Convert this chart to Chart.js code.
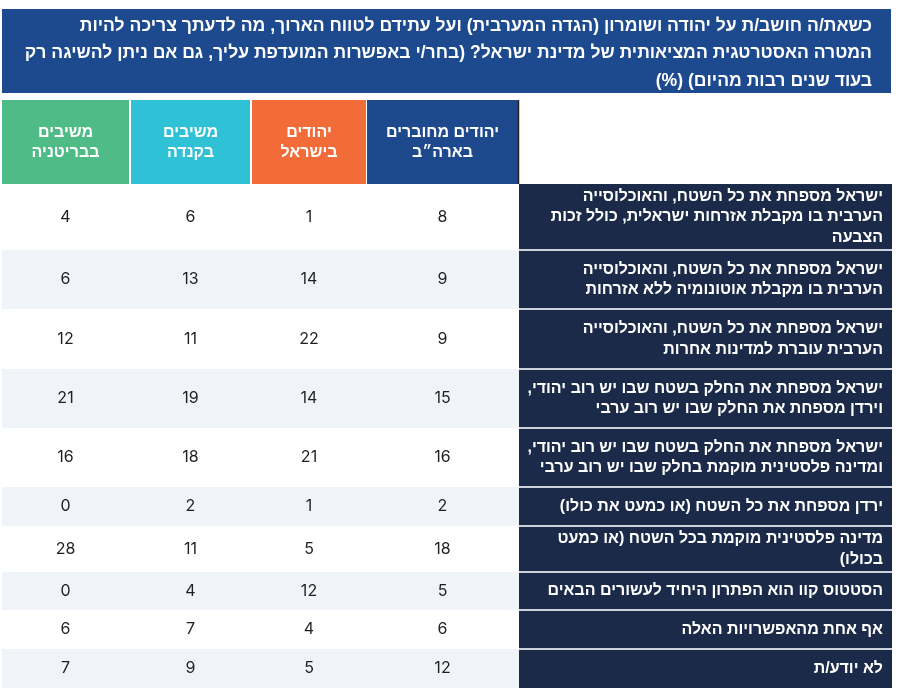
<!DOCTYPE html>
<html lang="he">
<head>
<meta charset="utf-8">
<script src="https://cdn.jsdelivr.net/npm/chart.js@4.4.1/dist/chart.umd.min.js"></script>
<style>
  html, body { margin: 0; padding: 0; background: #fff; }
  #wrap { width: 900px; height: 697px; }
</style>
</head>
<body>
<div id="wrap"><canvas id="tbl"></canvas></div>
<script>
// --- נתונים ---
const titleLines = [
  "כשאת/ה חושב/ת על יהודה ושומרון (הגדה המערבית) ועל עתידם לטווח הארוך, מה לדעתך צריכה להיות",
  "המטרה האסטרטגית המציאותית של מדינת ישראל? (בחר/י באפשרות המועדפת עליך, גם אם ניתן להשיגה רק",
  "בעוד שנים רבות מהיום) (%)"
];

// כותרות העמודות (מימין לשמאל)
const groups = [
  ["יהודים מחוברים", "בארה״ב"],
  ["יהודים", "בישראל"],
  ["משיבים", "בקנדה"],
  ["משיבים", "בבריטניה"]
];

const answers = [
  ["ישראל מספחת את כל השטח, והאוכלוסייה", "הערבית בו מקבלת אזרחות ישראלית, כולל זכות", "הצבעה"],
  ["ישראל מספחת את כל השטח, והאוכלוסייה", "הערבית בו מקבלת אוטונומיה ללא אזרחות"],
  ["ישראל מספחת את כל השטח, והאוכלוסייה", "הערבית עוברת למדינות אחרות"],
  ["ישראל מספחת את החלק בשטח שבו יש רוב יהודי,", "וירדן מספחת את החלק שבו יש רוב ערבי"],
  ["ישראל מספחת את החלק בשטח שבו יש רוב יהודי,", "ומדינה פלסטינית מוקמת בחלק שבו יש רוב ערבי"],
  ["ירדן מספחת את כל השטח (או כמעט את כולו)"],
  ["מדינה פלסטינית מוקמת בכל השטח (או כמעט", "בכולו)"],
  ["הסטטוס קוו הוא הפתרון היחיד לעשורים הבאים"],
  ["אף אחת מהאפשרויות האלה"],
  ["לא יודע/ת"]
];

const usJews     = [8, 9, 9, 15, 16, 2, 18, 5, 6, 12];
const israelJews = [1, 14, 22, 14, 21, 1, 5, 12, 4, 5];
const canada     = [6, 13, 11, 19, 18, 2, 11, 4, 7, 9];
const britain    = [4, 6, 12, 21, 16, 0, 28, 0, 6, 7];

const series = [usJews, israelJews, canada, britain];

// --- פריסה (פיקסלים) ---
const W = 900, H = 697;
const colEdges = [[367, 518], [252, 366], [131, 250], [2, 129]];
const groupColors = ["#1e4a8d", "#f26c3a", "#2fc1d5", "#4fbb87"];
const rowHeights = [66, 59, 60, 59, 59, 39, 46, 38, 39, 39];
const headTop = 100, tableTop = 184;
const labelLeft = 519, labelRight = 892;
const hebFont = "'Liberation Sans', Arial, sans-serif";
const numFont = "Inter, 'Open Sans', sans-serif";

const rowTops = [];
let acc = tableTop;
rowHeights.forEach(h => { rowTops.push(acc); acc += h; });
const tableBottom = acc;
const rowMid = i => rowTops[i] + rowHeights[i] / 2;

const datasets = series.map((vals, c) => ({
  label: groups[c].join(" "),
  data: vals.map((v, i) => ({ x: (colEdges[c][0] + colEdges[c][1]) / 2, y: rowMid(i), v: v })),
  pointRadius: 0,
  pointHoverRadius: 0
}));

function lines(ctx, arr, xPos, yMid, lh) {
  const start = yMid - (arr.length - 1) * lh / 2;
  arr.forEach((t, k) => ctx.fillText(t, xPos, start + k * lh));
}

const tablePlugin = {
  id: 'tablePlugin',
  beforeDatasetsDraw(chart) {
    const ctx = chart.ctx;
    const sx = chart.scales.x, sy = chart.scales.y;
    const px = v => sx.getPixelForValue(v), py = v => sy.getPixelForValue(v);
    ctx.save();

    // כותרת
    ctx.fillStyle = "#1d4a8e";
    ctx.fillRect(px(2), py(9), px(891) - px(2), py(93) - py(9));
    ctx.fillStyle = "#fff";
    ctx.direction = "rtl";
    ctx.textAlign = "right";
    ctx.textBaseline = "middle";
    ctx.font = "bold 17.6px " + hebFont;
    titleLines.forEach((t, k) => ctx.fillText(t, px(872), py(26 + k * 27.5)));

    // שורות מתחלפות
    rowTops.forEach((top, i) => {
      if (i % 2 === 1) {
        ctx.fillStyle = "#f0f4f9";
        ctx.fillRect(px(2), py(top), px(labelLeft) - px(2), py(top + rowHeights[i]) - py(top));
      }
    });

    // כותרות עמודות
    ctx.textAlign = "center";
    ctx.font = "bold 16px " + hebFont;
    colEdges.forEach((e, c) => {
      ctx.fillStyle = groupColors[c];
      ctx.fillRect(px(e[0]), py(headTop), px(e[1]) - px(e[0]), py(tableTop) - py(headTop));
      ctx.fillStyle = "#fff";
      lines(ctx, groups[c], px((e[0] + e[1]) / 2), py((headTop + tableTop) / 2 + 1), 20);
    });
    ctx.strokeStyle = "#222";
    ctx.lineWidth = 1.5;
    ctx.beginPath();
    ctx.moveTo(px(518.5), py(headTop));
    ctx.lineTo(px(518.5), py(tableTop));
    ctx.stroke();

    // עמודת התשובות
    ctx.fillStyle = "#1c2a4a";
    ctx.fillRect(px(labelLeft), py(tableTop), px(labelRight) - px(labelLeft), py(tableBottom) - py(tableTop));
    ctx.fillStyle = "#cdd2da";
    rowTops.slice(1).forEach(top => ctx.fillRect(px(labelLeft), py(top - 1), px(labelRight) - px(labelLeft), 2));
    ctx.fillStyle = "#fff";
    ctx.textAlign = "right";
    ctx.font = "bold 16px " + hebFont;
    answers.forEach((a, i) => lines(ctx, a, px(883), py(rowMid(i)), 20.5));

    ctx.restore();
  },
  afterDatasetsDraw(chart) {
    const ctx = chart.ctx;
    ctx.save();
    ctx.fillStyle = "#1f1f1f";
    ctx.font = "16px " + numFont;
    ctx.textAlign = "center";
    ctx.textBaseline = "middle";
    chart.data.datasets.forEach((ds, d) => {
      chart.getDatasetMeta(d).data.forEach((pt, i) => {
        ctx.fillText(String(ds.data[i].v), pt.x, pt.y);
      });
    });
    ctx.restore();
  }
};

new Chart(document.getElementById('tbl'), {
  type: 'scatter',
  data: { datasets: datasets },
  options: {
    responsive: true,
    maintainAspectRatio: false,
    animation: false,
    layout: { padding: 0 },
    plugins: { legend: { display: false }, tooltip: { enabled: false } },
    scales: {
      x: { type: 'linear', min: 0, max: W, display: false },
      y: { type: 'linear', min: 0, max: H, reverse: true, display: false }
    }
  },
  plugins: [tablePlugin]
});
</script>
</body>
</html>
